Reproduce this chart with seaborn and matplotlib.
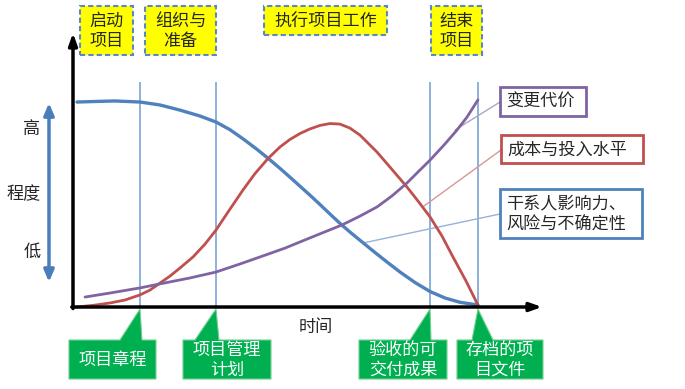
import numpy as np
import pandas as pd
import matplotlib
matplotlib.use("Agg")
import matplotlib.pyplot as plt
from matplotlib.patches import Rectangle, Polygon
import seaborn as sns

# ---------------- data (time 0..100, level 0..100) ----------------
influence_t = [0.86, 4.71, 8.99, 14.35, 18.63, 22.91, 27.19, 30.62, 33.62, 36.40, 39.19,
               41.76, 44.33, 46.47, 48.61, 50.75, 52.89, 55.25, 57.60, 59.74, 62.10,
               64.67, 67.24, 70.02, 73.23, 76.45, 79.66, 82.87, 86.72]
influence_v = [76.2, 76.4, 76.6, 76.2, 75.1, 73.2, 71.0, 68.77, 65.91, 62.53, 58.88,
               55.32, 51.52, 48.25, 44.91, 41.56, 38.10, 34.20, 30.41, 27.25, 23.90,
               20.26, 16.73, 13.01, 9.11, 5.76, 3.35, 1.75, 0.74]

cost_t = [0.86, 4.71, 7.92, 11.13, 14.35, 16.49, 18.63, 20.77, 22.91, 25.70, 28.27,
          30.62, 33.19, 36.40, 38.97, 41.76, 44.33, 46.47, 48.61, 50.75, 52.89, 55.03,
          57.17, 59.31, 61.46, 63.60, 65.10, 67.88, 71.52, 73.88, 76.45, 79.01, 81.37,
          84.15, 86.72]
cost_v = [0.0, 0.7, 1.5, 2.6, 4.5, 6.3, 8.9, 11.5, 14.5, 18.6, 23.4,
          28.6, 35.3, 43.5, 49.6, 55.2, 59.5, 62.3, 64.5, 66.2, 67.5, 68.2,
          68.0, 66.5, 63.9, 60.2, 57.6, 52.0, 44.6, 39.4, 33.5, 26.4, 18.6,
          9.7, 0.7]

change_t = [2.57, 7.92, 14.35, 18.63, 25.05, 30.62, 35.76, 40.04, 45.40, 50.75, 57.60,
            61.46, 65.10, 68.31, 71.52, 73.88, 76.45, 79.44, 82.23, 84.37, 86.72]
change_v = [3.7, 5.2, 7.1, 8.6, 10.8, 13.0, 16.0, 18.6, 21.9, 25.7, 30.5,
            33.8, 37.2, 41.3, 46.1, 50.2, 54.6, 60.2, 65.8, 70.6, 77.0]

milestone_t = [14.35, 30.62, 76.45, 86.72]
milestone_labels = ["项目章程", "项目管理\n计划", "验收的可\n交付成果", "存档的项\n目文件"]
phase_labels = ["启动\n项目", "组织与\n准备", "执行项目工作", "结束\n项目"]
series_labels = ["变更代价", "成本与投入水平", "干系人影响力、\n风险与不确定性"]
level_labels = ["高", "程度", "低"]
x_label = "时间"

# ---------------- figure ----------------
sns.set_style("white")
plt.rcParams["font.family"] = ["Noto Sans CJK SC", "DejaVu Sans"]

fig = plt.figure(figsize=(6.85, 3.89), dpi=100)
ax = fig.add_axes([0, 0, 1, 1])
ax.set_xlim(-15.63, 131.05)
ax.set_ylim(-30.48, 114.13)
ax.axis("off")


def P(px, py):
    return ((px - 73) / 4.67, (307 - py) / 2.69)


BLUE = "#4f81bd"
RED = "#c0504d"
PURPLE = "#8064a2"
GREEN = "#00b050"
FS = 12.3

# milestone vertical lines
ax.vlines(milestone_t, 0, P(0, 82)[1], colors="#6f9bd1", lw=1.1, zorder=1)

# curves
line_kw = dict(ax=ax, sort=False, zorder=3, solid_joinstyle="round", solid_capstyle="round")
sns.lineplot(x=influence_t, y=influence_v, color=BLUE, lw=2.4, **line_kw)
sns.lineplot(x=cost_t, y=cost_v, color=RED, lw=2.0, **line_kw)
sns.lineplot(x=change_t, y=change_v, color=PURPLE, lw=2.0, **line_kw)

# axes arrows
ax.annotate("", xy=P(73, 33), xytext=P(73, 308.5),
            arrowprops=dict(arrowstyle="-|>,head_length=0.7,head_width=0.25",
                            lw=2.5, color="black", shrinkA=0, shrinkB=0), zorder=5)
ax.annotate("", xy=P(542, 307), xytext=P(71.8, 307),
            arrowprops=dict(arrowstyle="-|>,head_length=0.7,head_width=0.25",
                            lw=2.5, color="black", shrinkA=0, shrinkB=0), zorder=5)

# level double arrow
ax.annotate("", xy=P(49, 103), xytext=P(49, 282),
            arrowprops=dict(arrowstyle="<|-|>,head_length=0.7,head_width=0.3",
                            lw=2.5, color="#4a7ebb", shrinkA=0, shrinkB=0))
for lab, (px, py) in zip(level_labels, [(32, 129), (24, 194), (32, 252)]):
    ax.text(*P(px, py), lab, fontsize=FS, ha="center", va="center")

ax.text(*P(316, 327), x_label, fontsize=FS, ha="center", va="center")

# phase boxes (yellow)
phase_boxes = [(80, 6, 133, 55), (145, 6, 216, 55), (264, 6, 387, 35), (431, 6, 482, 55)]
for lab, (x0, y0, x1, y1) in zip(phase_labels, phase_boxes):
    a = P(x0, y1)
    b = P(x1, y0)
    ax.add_patch(Rectangle(a, b[0] - a[0], b[1] - a[1], facecolor="#ffff00",
                           edgecolor="#5b87c5", lw=1.5, ls=(0, (2.5, 1.5)), zorder=4))
    ax.text(*P((x0 + x1) / 2, (y0 + y1) / 2 + 0.5), lab, fontsize=FS, ha="center",
            va="center", linespacing=1.15, zorder=5)

# series label boxes with leader lines
label_boxes = [(500, 87, 586, 116), (501, 135, 643, 163), (500, 189, 642, 238)]
colors = [PURPLE, RED, BLUE]
leader_colors = ["#b3a2c7", "#d99694", "#95b3d7"]
leaders = [((455, 130), (500, 102)), ((424, 206), (501, 150)), ((363, 243), (500, 214))]
for lab, (x0, y0, x1, y1), c, lc, (s, e) in zip(series_labels, label_boxes, colors,
                                                 leader_colors, leaders):
    ax.plot(*zip(P(*s), P(*e)), color=lc, lw=1.0, zorder=2)
    a = P(x0, y1)
    b = P(x1, y0)
    ax.add_patch(Rectangle(a, b[0] - a[0], b[1] - a[1], facecolor="white",
                           edgecolor=c, lw=2.0, zorder=4))
    ax.text(*P(x0 + 6, (y0 + y1) / 2 + 0.5), lab, fontsize=FS, ha="left",
            va="center", linespacing=1.2, zorder=5)

# milestone callouts (green)
callouts = [(69, 156, 120, 142), (183, 271, 195, 219), (359, 447, 410, 431), (457, 543, 472, 493)]
for lab, t, (x0, x1, b0, b1) in zip(milestone_labels, milestone_t, callouts):
    tip_px = 73 + t * 4.67
    pts = [P(x0, 340), P(b0, 340), P(tip_px, 309), P(b1, 340), P(x1, 340),
           P(x1, 379), P(x0, 379)]
    ax.add_patch(Polygon(pts, closed=True, facecolor=GREEN, edgecolor="#6fd08f",
                         lw=0.8, zorder=4))
    ax.text(*P((x0 + x1) / 2, 360), lab, fontsize=FS, color="white", ha="center",
            va="center", linespacing=1.1, zorder=5)

fig.savefig("out.png", dpi=100)
